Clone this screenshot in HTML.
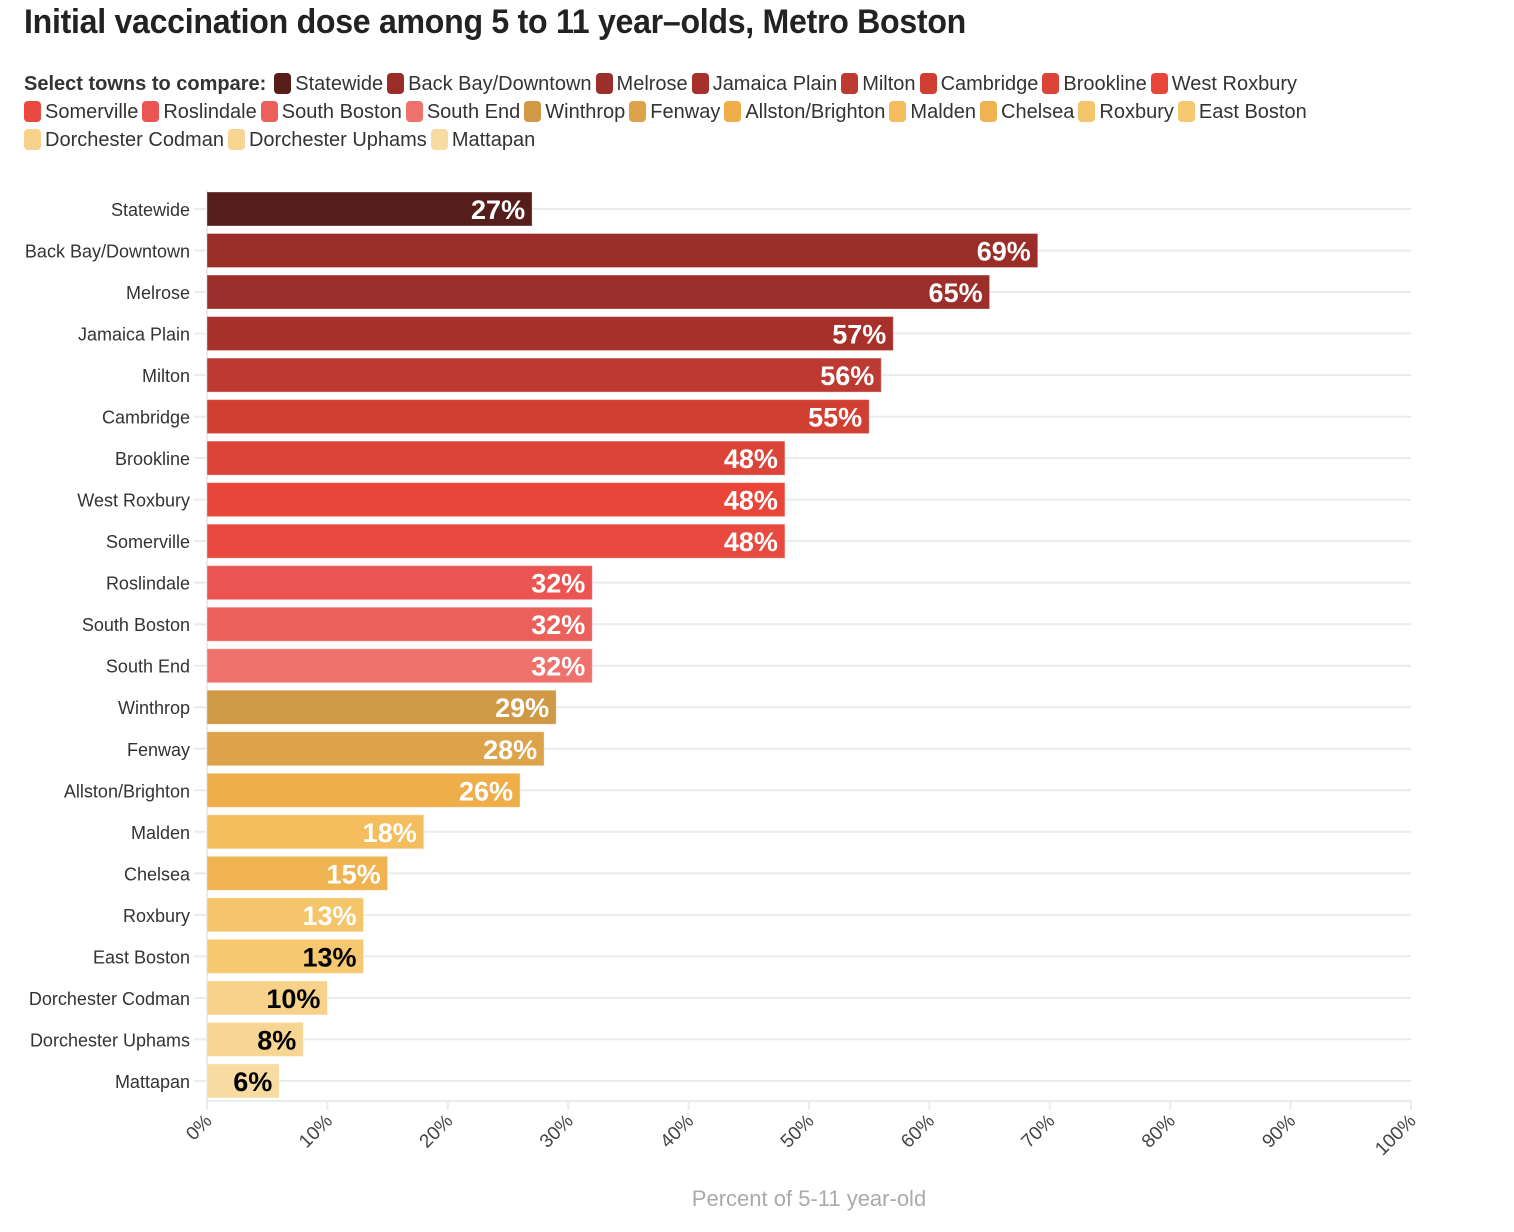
<!DOCTYPE html>
<html><head><meta charset="utf-8">
<style>
body{margin:0;background:#fff;font-family:"Liberation Sans Narrow","Liberation Sans",sans-serif;color:#222;}
#wrap{position:relative;width:1514px;height:1232px;overflow:hidden;}
h1{position:absolute;left:24px;top:3px;margin:0;font-size:34px;font-weight:bold;color:#222;letter-spacing:-0.3px;white-space:nowrap;transform:scaleX(0.944);transform-origin:0 0;}
#legend{position:absolute;left:24px;top:70px;width:1400px;font-size:20px;line-height:28px;color:#333;white-space:nowrap;transform:scaleX(1.0);transform-origin:0 0;}
#legend b{margin-right:8px;}
.li{display:inline-block;margin-right:4px;white-space:nowrap;}
.sw{display:inline-block;width:17px;height:21px;border-radius:4px;vertical-align:-4px;margin-right:4px;}
svg text{font-family:"Liberation Sans Narrow","Liberation Sans",sans-serif;}
</style></head><body>
<div id="wrap">
<h1>Initial vaccination dose among 5 to 11 year–olds, Metro Boston</h1>
<div id="legend"><b>Select towns to compare:</b></div>
<svg id="chart" width="1514" height="1232" style="position:absolute;left:0;top:0"></svg>
</div>
<script>
const categories=["Statewide","Back Bay/Downtown","Melrose","Jamaica Plain","Milton","Cambridge","Brookline","West Roxbury","Somerville","Roslindale","South Boston","South End","Winthrop","Fenway","Allston/Brighton","Malden","Chelsea","Roxbury","East Boston","Dorchester Codman","Dorchester Uphams","Mattapan"];
const values=[27,69,65,57,56,55,48,48,48,32,32,32,29,28,26,18,15,13,13,10,8,6];
const colors=["#561e1b","#9b2d29","#9c2f2b","#a8302b","#bc3a31","#d13f33","#dc4438","#e94538","#e94a3f","#eb5450","#ec605b","#ef716c","#d09946","#dda34b","#f0ae4b","#f4bd5d","#f0b352","#f5c56b","#f6c970","#f7d28a","#f7d593","#f8dba0"];
const darkLabel=[false,false,false,false,false,false,false,false,false,false,false,false,false,false,false,false,false,false,true,true,true,true];
const ticks=[0,10,20,30,40,50,60,70,80,90,100];
const NS="http://www.w3.org/2000/svg";
const svg=document.getElementById('chart');
const x=v=>207+v*12.04;
const y=i=>209+i*41.52;
function mk(t,a){const e=document.createElementNS(NS,t);for(const k in a)e.setAttribute(k,a[k]);svg.appendChild(e);return e;}
const lg=document.getElementById('legend');
categories.forEach((c,i)=>{
  const s=document.createElement('span');s.className='li';
  
  
  s.innerHTML='<span class="sw" style="background:'+colors[i]+'"></span>'+c;
  lg.appendChild(s);
  if(c==="West Roxbury"||c==="East Boston")lg.appendChild(document.createElement('br'));
});
categories.forEach((c,i)=>{
  const g=mk('line',{x1:194,x2:1411,y1:y(i),y2:y(i),stroke:'#ebebeb','stroke-width':2});
  
  
});
const base=mk('line',{x1:207,x2:1411,y1:1101,y2:1101,stroke:'#ebebeb','stroke-width':2});


const yl=mk('line',{x1:207,x2:207,y1:190,y2:1110,stroke:'#ebebeb','stroke-width':2});


ticks.forEach(t=>{
  const tl=mk('line',{x1:x(t),x2:x(t),y1:1101,y2:1110,stroke:'#ebebeb','stroke-width':2});
  
  
  const tx=mk('text',{x:x(t)+6,y:1122,'font-size':19,fill:'#444','text-anchor':'end',transform:'rotate(-45 '+(x(t)+6)+' 1122)'});
  tx.textContent=t+'%';
  
  
});
categories.forEach((c,i)=>{
  const lab=mk('text',{x:190,y:y(i)+7,'font-size':18,fill:'#333','text-anchor':'end'});
  lab.textContent=c;
  
  
  const b=mk('rect',{x:207,y:y(i)-17,width:x(values[i])-207,height:34,fill:colors[i],stroke:'rgba(255,255,255,0.35)','stroke-width':1});
  
  
  const vl=mk('text',{x:x(values[i])-7,y:y(i)+10,'font-size':27,'font-weight':'bold','text-anchor':'end',fill:darkLabel[i]?'#000':'#fff',stroke:colors[i],'stroke-width':5,'paint-order':'stroke','stroke-linejoin':'round'});
  vl.textContent=values[i]+'%';
  
  
});
const xt=mk('text',{x:809,y:1206,'font-size':22,fill:'#aaa','text-anchor':'middle'});
xt.textContent='Percent of 5-11 year-old';


</script>
</body></html>
